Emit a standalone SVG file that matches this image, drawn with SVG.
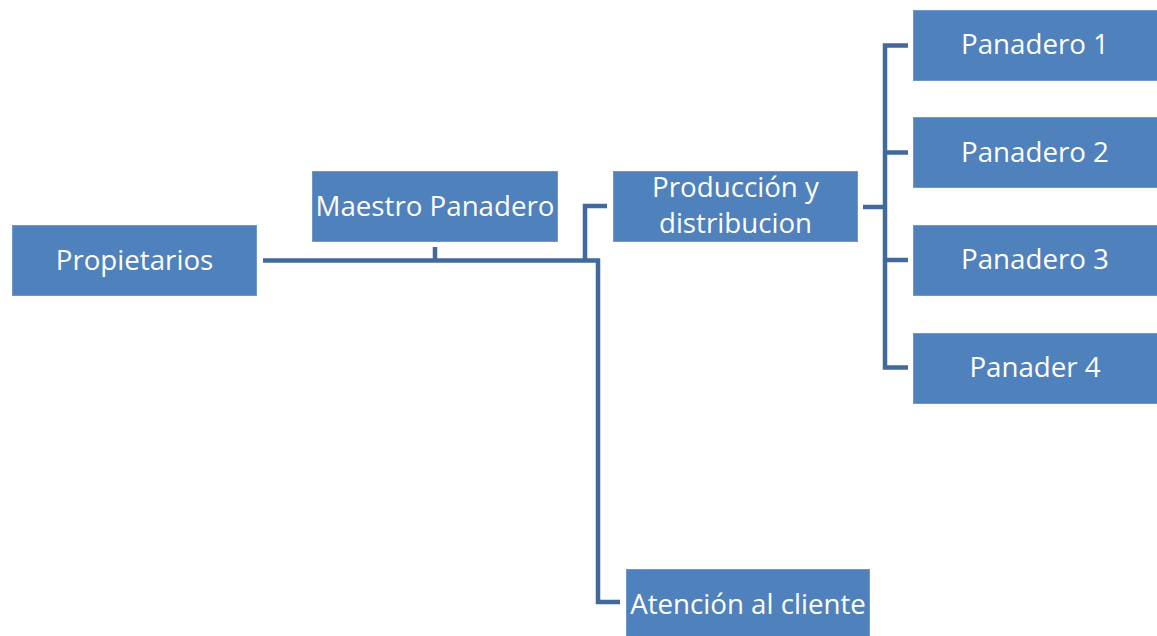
<svg xmlns="http://www.w3.org/2000/svg" width="1157" height="636" viewBox="0 0 1157 636">
<style>
.box{fill:#4f81bd;stroke:#6f97c9;stroke-width:1}
.t{fill:#ffffff;font-family:"Open Sans","Noto Sans",sans-serif;font-size:27.7px;text-anchor:middle}
.c{fill:none;stroke:#41699b;stroke-width:4.5;stroke-linejoin:miter;stroke-linecap:butt}
</style>
<rect width="1157" height="636" fill="#ffffff"/>
<g id="connectors">
<path class="c" d="M263 260.5 H598 V602 H620"/>
<path class="c" d="M435 247 V260"/>
<path class="c" d="M585 260 V206 H607"/>
<path class="c" d="M863 207 H885"/>
<path class="c" d="M908 45.5 H885 V367.5 H908"/>
<path class="c" d="M885 152.5 H908"/>
<path class="c" d="M885 260 H908"/>
</g>
<g id="propietarios">
<rect class="box" x="12.5" y="225.5" width="244" height="70"/>
<text class="t" x="134.5" y="270">Propietarios</text>
</g>
<g id="maestro">
<rect class="box" x="312.5" y="171.5" width="245" height="70"/>
<text class="t" x="435" y="215.5">Maestro Panadero</text>
</g>
<g id="produccion">
<rect class="box" x="613.5" y="171.5" width="244" height="70"/>
<text class="t" x="735.5" y="197">Producción y</text>
<text class="t" x="735.5" y="233">distribucion</text>
</g>
<g id="panadero1">
<rect class="box" x="913.5" y="10.5" width="244" height="70"/>
<text class="t" x="1035" y="54">Panadero 1</text>
</g>
<g id="panadero2">
<rect class="box" x="913.5" y="117.5" width="244" height="70"/>
<text class="t" x="1035" y="161.5">Panadero 2</text>
</g>
<g id="panadero3">
<rect class="box" x="913.5" y="225.5" width="244" height="70"/>
<text class="t" x="1035" y="269">Panadero 3</text>
</g>
<g id="panadero4">
<rect class="box" x="913.5" y="333.5" width="244" height="70"/>
<text class="t" x="1035" y="377">Panader 4</text>
</g>
<g id="atencion">
<rect class="box" x="626.5" y="569.5" width="243" height="70"/>
<text class="t" x="748" y="613.5">Atención al cliente</text>
</g>
</svg>
